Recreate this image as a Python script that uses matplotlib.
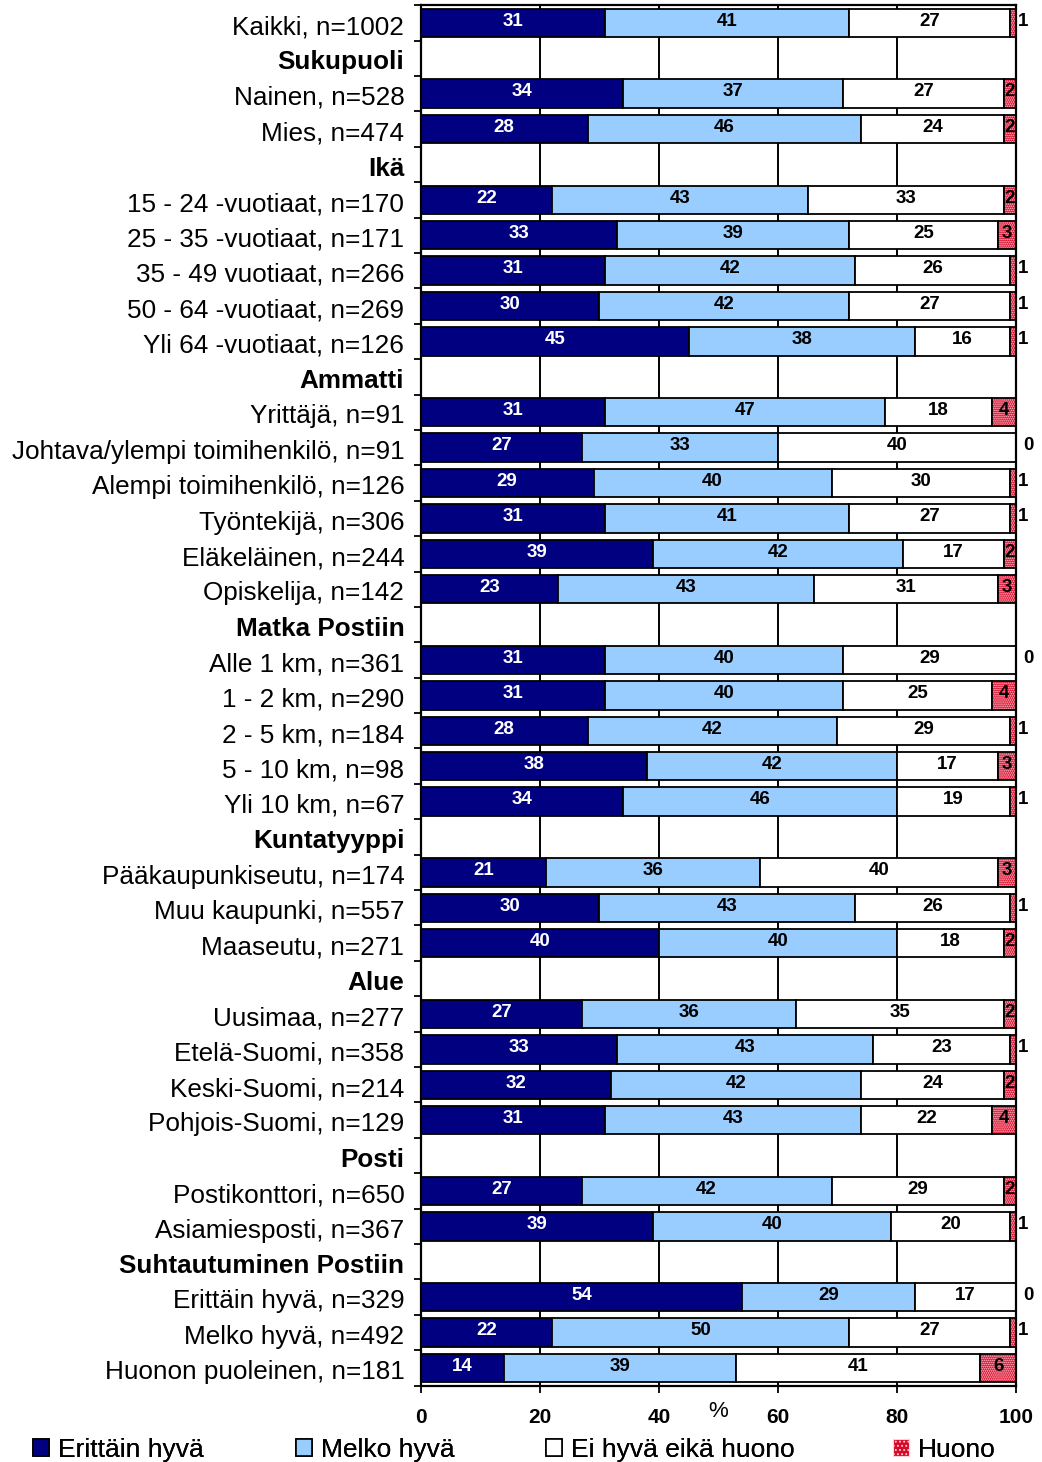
import numpy as np
import matplotlib.pyplot as plt
from matplotlib.patches import Patch

plt.rcParams['font.family'] = ['Liberation Sans', 'DejaVu Sans']
plt.rcParams['hatch.linewidth'] = 0.8

# Row labels top to bottom; None in the values marks a group heading
labels = [
    "Kaikki, n=1002",
    "Sukupuoli",
    "Nainen, n=528", "Mies, n=474",
    "Ikä",
    "15 - 24 -vuotiaat, n=170", "25 - 35 -vuotiaat, n=171", "35 - 49 vuotiaat, n=266",
    "50 - 64 -vuotiaat, n=269", "Yli 64 -vuotiaat, n=126",
    "Ammatti",
    "Yrittäjä, n=91", "Johtava/ylempi toimihenkilö, n=91", "Alempi toimihenkilö, n=126",
    "Työntekijä, n=306", "Eläkeläinen, n=244", "Opiskelija, n=142",
    "Matka Postiin",
    "Alle 1 km, n=361", "1 - 2 km, n=290", "2 - 5 km, n=184", "5 - 10 km, n=98", "Yli 10 km, n=67",
    "Kuntatyyppi",
    "Pääkaupunkiseutu, n=174", "Muu kaupunki, n=557", "Maaseutu, n=271",
    "Alue",
    "Uusimaa, n=277", "Etelä-Suomi, n=358", "Keski-Suomi, n=214", "Pohjois-Suomi, n=129",
    "Posti",
    "Postikonttori, n=650", "Asiamiesposti, n=367",
    "Suhtautuminen Postiin",
    "Erittäin hyvä, n=329", "Melko hyvä, n=492", "Huonon puoleinen, n=181",
]

erittain_hyva = [31, None, 34, 28, None, 22, 33, 31, 30, 45, None, 31, 27, 29, 31, 39, 23, None,
                 31, 31, 28, 38, 34, None, 21, 30, 40, None, 27, 33, 32, 31, None, 27, 39, None, 54, 22, 14]
melko_hyva = [41, None, 37, 46, None, 43, 39, 42, 42, 38, None, 47, 33, 40, 41, 42, 43, None,
              40, 40, 42, 42, 46, None, 36, 43, 40, None, 36, 43, 42, 43, None, 42, 40, None, 29, 50, 39]
ei_hyva_eika_huono = [27, None, 27, 24, None, 33, 25, 26, 27, 16, None, 18, 40, 30, 27, 17, 31, None,
                      29, 25, 29, 17, 19, None, 40, 26, 18, None, 35, 23, 24, 22, None, 29, 20, None, 17, 27, 41]
huono = [1, None, 2, 2, None, 2, 3, 1, 1, 1, None, 4, 0, 1, 1, 2, 3, None,
         0, 4, 1, 3, 1, None, 3, 1, 2, None, 2, 1, 2, 4, None, 2, 1, None, 0, 1, 6]

series_names = ["Erittäin hyvä", "Melko hyvä", "Ei hyvä eikä huono", "Huono"]
colors = ["#000080", "#99CCFF", "#FFFFFF", "#D80A2A"]
text_colors = ["white", "black", "black", "black"]

rows = [i for i, v in enumerate(erittain_hyva) if v is not None]
headers = [i for i, v in enumerate(erittain_hyva) if v is None]
series = [erittain_hyva, melko_hyva, ei_hyva_eika_huono, huono]

fig = plt.figure(figsize=(10.42, 14.62), dpi=100)
ax = fig.add_axes([0.404, 0.0522, 0.571, 0.9443])

bar_h = 0.8
y = np.array(rows)
left = np.zeros(len(rows))
for k, (vals, name, col) in enumerate(zip(series, series_names, colors)):
    v = np.array([vals[i] for i in rows], dtype=float)
    if k == 3:
        ax.barh(y, v, left=left, height=bar_h, color=col, edgecolor="#FFD0D8",
                hatch="........", linewidth=0, zorder=2)
        ax.barh(y, v, left=left, height=bar_h, color="none", edgecolor="black",
                linewidth=1.3, zorder=3)
    else:
        ax.barh(y, v, left=left, height=bar_h, color=col, edgecolor="black",
                linewidth=1.3, zorder=2)
    for yy, l, w in zip(y, left, v):
        if k == 3 and w < 2:
            ax.text(100.4 + (1 - w) * 0.9, yy - 0.05, f"{w:.0f}", ha="left", va="center",
                    fontsize=13.5, fontweight="bold", color="black", zorder=4)
        else:
            ax.text(l + w / 2, yy - 0.05, f"{w:.0f}", ha="center", va="center",
                    fontsize=13.5, fontweight="bold", color=text_colors[k], zorder=4)
    left = left + v

ax.set_xlim(0, 100)
ax.set_ylim(len(labels) - 0.5, -0.5)

for gx in [20, 40, 60, 80]:
    ax.axvline(gx, color="black", linewidth=1.4, zorder=1)

# Row labels drawn as text so they can sit a little below the bar centres
ax.set_yticks([])
for i, lab in enumerate(labels):
    ax.text(-0.028, i + 0.12, lab, transform=ax.get_yaxis_transform(), ha="right",
            va="center", fontsize=18.8,
            fontweight="bold" if i in headers else "normal")
ax.set_yticks(np.arange(len(labels) + 1) - 0.5, minor=True)
ax.tick_params(axis="y", which="minor", length=5, width=1.3, direction="out")

ax.set_xticks([0, 20, 40, 60, 80, 100])
ax.tick_params(axis="x", which="major", length=5, width=1.3, direction="out", pad=11,
               labelsize=15)
for t in ax.get_xticklabels():
    t.set_fontweight("bold")
ax.text(50, -0.019, "%", transform=ax.get_xaxis_transform(), ha="center", va="center",
        fontsize=16)

for s in ax.spines.values():
    s.set_linewidth(1.6)
    s.set_color("black")

# One legend per entry so each sits where it belongs along the bottom
handles = [Patch(facecolor=colors[0], edgecolor="black", linewidth=1.2),
           Patch(facecolor=colors[1], edgecolor="black", linewidth=1.2),
           Patch(facecolor=colors[2], edgecolor="black", linewidth=1.2),
           Patch(facecolor=colors[3], edgecolor="#FFD0D8", hatch="....", linewidth=0.8)]
legend_x = [0.0317, 0.284, 0.524, 0.857]
for h, name, lx in zip(handles, series_names, legend_x):
    leg = fig.legend([h], [name], loc="center left", bbox_to_anchor=(lx, 0.0085),
                     frameon=False, fontsize=19, handlelength=0.6, handleheight=0.6,
                     handletextpad=0.35, borderpad=0, borderaxespad=0)
    fig.add_artist(leg)

fig.savefig("out.png", dpi=100)
